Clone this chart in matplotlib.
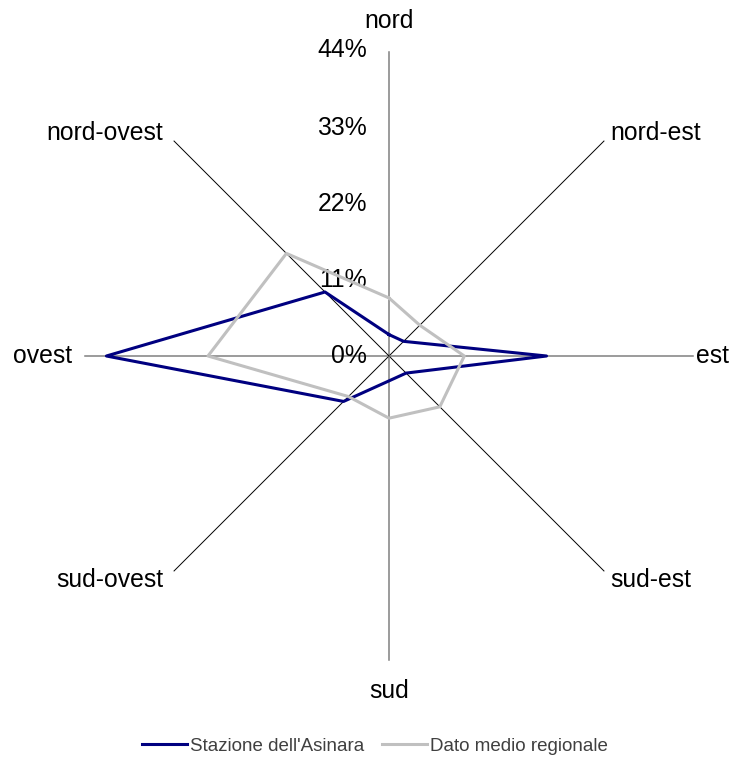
import numpy as np
import matplotlib
matplotlib.use("Agg")
import matplotlib.pyplot as plt
from matplotlib.lines import Line2D

plt.rcParams['font.family'] = ['Liberation Sans', 'DejaVu Sans']

# wind direction frequencies (%)
directions = ['nord', 'nord-est', 'est', 'sud-est', 'sud', 'sud-ovest', 'ovest', 'nord-ovest']
asinara = [3.1, 3.0, 22.8, 3.5, 3.6, 9.3, 40.9, 13.1]
regionale = [8.4, 6.3, 10.9, 10.4, 9.0, 8.3, 26.2, 21.0]
ticks = [0, 11, 22, 33, 44]
series_names = ["Stazione dell'Asinara", "Dato medio regionale"]

W, H = 743, 762
fig = plt.figure(figsize=(W / 100, H / 100), dpi=100)

cx, cy, R = 389, 356, 304
ax = fig.add_axes([(cx - R) / W, (H - cy - R) / H, 2 * R / W, 2 * R / H], projection='polar')
ax.set_theta_zero_location('N')
ax.set_theta_direction(-1)
ax.set_ylim(0, ticks[-1])
ax.axis('off')

theta = np.linspace(0, 2 * np.pi, len(directions), endpoint=False)

# spokes
for i, t in enumerate(theta):
    if i % 2 == 0:
        ax.plot([t, t], [0, ticks[-1]], color='#808080', lw=1.1, clip_on=False, zorder=1)
    else:
        ax.plot([t, t], [0, ticks[-1]], color='black', lw=0.7, clip_on=False, zorder=1)

tt = np.append(theta, theta[0])
ax.plot(tt, asinara + asinara[:1], color='#000080', lw=2.2, clip_on=False, zorder=3)
ax.plot(tt, regionale + regionale[:1], color='#C0C0C0', lw=2.2, clip_on=False, zorder=4)

# value labels along the north spoke
for v in ticks:
    ax.annotate(f'{v}%', xy=(0, v), xytext=(-22, 2 if v == ticks[-1] else 0),
                textcoords='offset pixels', ha='right', va='center', fontsize=17.8)

# direction labels
offsets = [(0, 31, 'center'), (6, 8, 'left'), (3, 0, 'left'), (6, -9, 'left'),
           (0, -31, 'center'), (-11, -9, 'right'), (-13, 0, 'right'), (-11, 8, 'right')]
for t, name, (dx, dy, ha) in zip(theta, directions, offsets):
    ax.annotate(name, xy=(t, ticks[-1]), xytext=(dx, dy), textcoords='offset pixels',
                ha=ha, va='center', fontsize=17.8)

handles = [Line2D([], [], color='#000080', lw=2.2), Line2D([], [], color='#C0C0C0', lw=2.2)]
fig.legend(handles, series_names, loc='center', bbox_to_anchor=(375 / W, 16 / H), ncol=2,
           frameon=False, fontsize=13.5, handlelength=2.4, handletextpad=0.2,
           columnspacing=0.9, labelcolor='#404040')

fig.savefig('out.png', dpi=100)
